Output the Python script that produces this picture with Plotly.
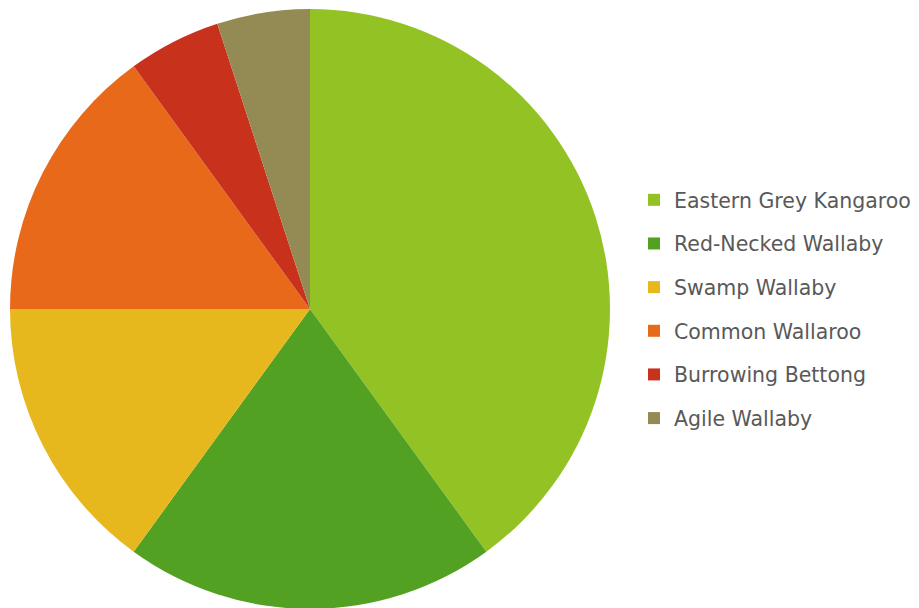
import plotly.graph_objects as go

labels = ["Eastern Grey Kangaroo", "Red-Necked Wallaby", "Swamp Wallaby",
          "Common Wallaroo", "Burrowing Bettong", "Agile Wallaby"]
values = [40, 20, 15, 15, 5, 5]
colors = ["#93C225", "#52A123", "#E6B81E", "#E8691A", "#C8321C", "#948A54"]

fig = go.Figure()
fig.add_trace(go.Pie(
    labels=labels, values=values, sort=False, direction="clockwise", rotation=0,
    marker=dict(colors=colors, line=dict(width=0)), textinfo="none",
    hoverinfo="label+value", showlegend=False,
    domain=dict(x=[2/919, 602/919], y=[0, 1]),
))
for lab, col in zip(labels, colors):
    fig.add_trace(go.Scatter(
        x=[None], y=[None], mode="markers", name=lab, legendgroup=lab,
        marker=dict(symbol="square", size=12, color=col),
    ))

fig.update_layout(
    width=919, height=608,
    margin=dict(l=0, r=0, t=1, b=7),
    paper_bgcolor="white", plot_bgcolor="white",
    xaxis=dict(visible=False), yaxis=dict(visible=False),
    legend=dict(x=626/919, xanchor="left", y=0.5, yanchor="middle",
                font=dict(family="DejaVu Sans", size=20.5, color="#595959"),
                tracegroupgap=14, bgcolor="rgba(0,0,0,0)"),
)
fig.write_html("out.html")
